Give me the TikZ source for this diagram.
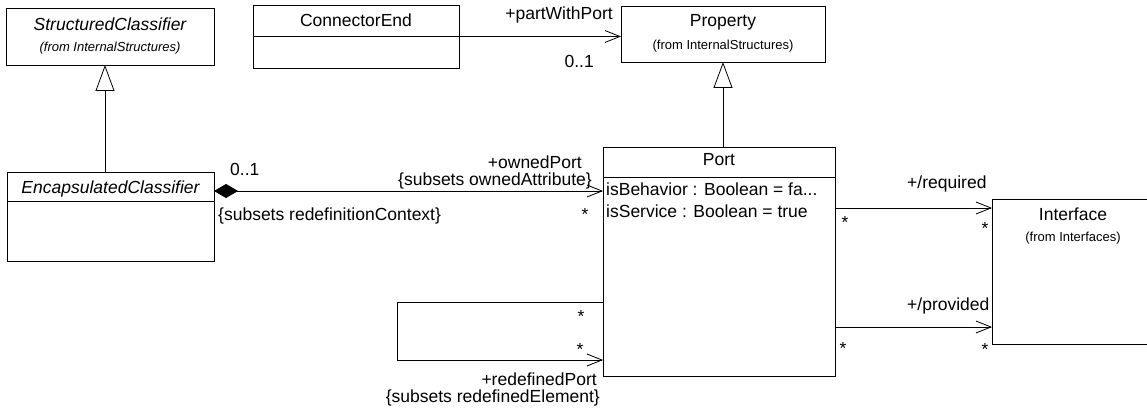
\documentclass[tikz,border=0pt]{standalone}
\usepackage{fontspec}
\setmainfont{Liberation Sans}
\usetikzlibrary{arrows.meta,calc,positioning}

\begin{document}
\begin{tikzpicture}[
    x=1pt, y=-1pt,
    cls/.style={rectangle, draw=black, line width=0.8pt, outer sep=0pt, inner sep=0pt},
    title/.style={font=\fontsize{17.5}{20}\selectfont, inner sep=0pt, anchor=base},
    from/.style={font=\fontsize{13}{15}\selectfont, inner sep=0pt, anchor=base},
    attr/.style={font=\fontsize{17.5}{20}\selectfont, inner sep=0pt, anchor=base west},
    role/.style={font=\fontsize{17.5}{20}\selectfont, inner sep=0pt},
    mult/.style={font=\fontsize{17.5}{20}\selectfont, inner sep=0pt, anchor=base},
    assoc/.style={line width=0.8pt, -{Straight Barb[length=15pt,width=12pt]}},
    gen/.style={line width=0.8pt, -{Triangle[open,fill=white,length=26pt,width=19pt]}},
    comp/.style={line width=0.8pt, {Diamond[length=24pt,width=14pt]}-{Straight Barb[length=15pt,width=12pt]}}
]
\useasboundingbox (0,0) rectangle (1147,411);
\clip (0,0) rectangle (1147,411);

% StructuredClassifier
\node[cls, minimum width=208pt, minimum height=57pt] (sc) at (110,36.5) {};
\node[title] (sc-name) at (110,31) {\itshape StructuredClassifier};
\node[from] (sc-from) at (110,52) {\itshape (from InternalStructures)};

% ConnectorEnd
\node[cls, minimum width=206pt, minimum height=63pt] (ce) at (356,36.5) {};
\draw[line width=0.8pt] (ce.west) -- (ce.east);
\node[title] (ce-name) at (356,27) {ConnectorEnd};

% Property
\node[cls, minimum width=204pt, minimum height=56pt] (prop) at (723,34) {};
\node[title] (prop-name) at (723,27) {Property};
\node[from] (prop-from) at (723,50) {(from InternalStructures)};

% EncapsulatedClassifier
\node[cls, minimum width=207pt, minimum height=89pt] (ec) at (110.5,216.5) {};
\draw[line width=0.8pt] ($(ec.north west)+(0,29)$) -- ($(ec.north east)+(0,29)$);
\node[title] (ec-name) at (110.5,194) {\itshape EncapsulatedClassifier};

% Port
\node[cls, minimum width=232pt, minimum height=229pt] (port) at (719,261.5) {};
\draw[line width=0.8pt] ($(port.north west)+(0,30)$) -- ($(port.north east)+(0,30)$);
\node[title] (port-name) at (719,166) {Port};
\node[attr] (port-attr1) at (606,196) {isBehavior : Boolean = fa...};
\node[attr] (port-attr2) at (606,218) {isService : Boolean = true};

% Interface
\node[cls, minimum width=162pt, minimum height=145pt] (iface) at (1073,271.5) {};
\node[title] (iface-name) at (1073,221) {Interface};
\node[from] (iface-from) at (1073,242) {(from Interfaces)};

% Generalizations
\draw[gen] ($(ec.north)+(-5.5,0)$) -- ($(sc.south)+(-5,0)$);
\draw[gen] (port.north -| prop.south) -- (prop.south);

% partWithPort
\draw[assoc] (ce.east) -- (ce.east -| prop.west);
\node[role, anchor=base east] (pwp-role) at (613,20) {+partWithPort};
\node[mult, anchor=base east] (pwp-mult) at (594,68) {0..1};

% ownedPort
\draw[comp] ($(ec.north east)+(0,19)$) -- ($(port.north west)+(0,44)$);
\node[mult, anchor=base west] (op-mult1) at (230,176) {0..1};
\node[role, anchor=base east] (op-role) at (582,169) {+ownedPort};
\node[role, anchor=base east] (op-subsets) at (592,186) {\{subsets ownedAttribute\}};
\node[role, anchor=base west] (op-context) at (218,221) {\{subsets redefinitionContext\}};
\node[mult] (op-mult2) at (585,221) {*};

% required / provided
\draw[assoc] ($(port.north east)+(0,61)$) coordinate (req) -- (req -| iface.west);
\node[role, anchor=base west] (req-role) at (907,189) {+/required};
\node[mult] (req-mult1) at (845,229) {*};
\node[mult] (req-mult2) at (985,235) {*};

\draw[assoc] ($(port.north east)+(0,180)$) coordinate (prov) -- (prov -| iface.west);
\node[role, anchor=base west] (prov-role) at (907,310) {+/provided};
\node[mult] (prov-mult1) at (843,354) {*};
\node[mult] (prov-mult2) at (985,355) {*};

% redefinedPort
\draw[assoc] ($(port.north west)+(0,155)$) -- ++(-206,0) -- ++(0,58) -- ($(port.north west)+(0,213)$);
\node[mult] (rp-mult1) at (581,322) {*};
\node[mult] (rp-mult2) at (580,355) {*};
\node[role, anchor=base east] (rp-role) at (597,385) {+redefinedPort};
\node[role, anchor=base east] (rp-subsets) at (600,402) {\{subsets redefinedElement\}};

\end{tikzpicture}
\end{document}
